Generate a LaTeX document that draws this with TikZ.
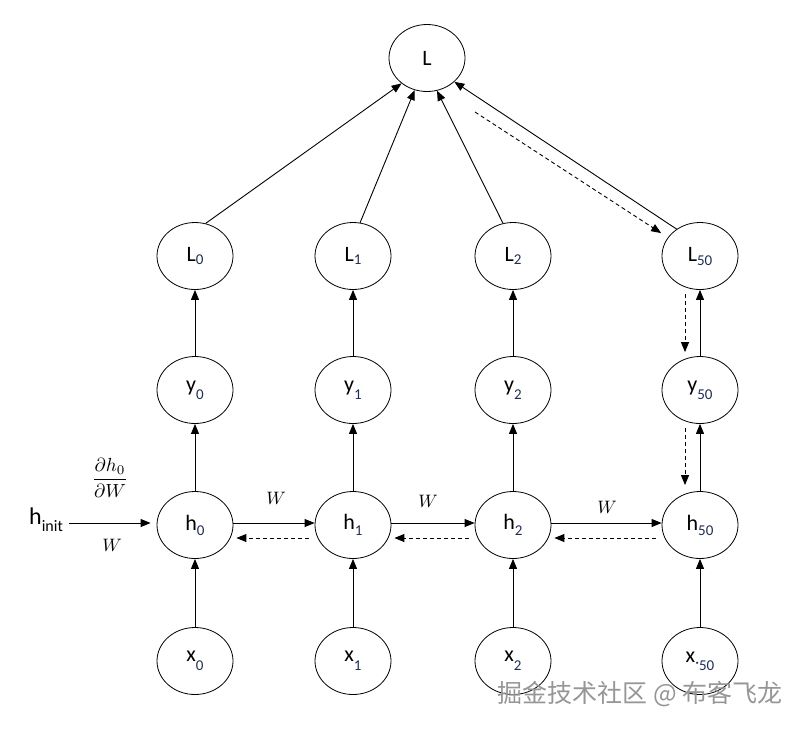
\documentclass[tikz,border=0pt]{standalone}
\usepackage{graphicx}
\usepackage{fontspec}
\setmainfont{Carlito}
\newfontfamily\cjk{Noto Sans CJK SC}
\usetikzlibrary{arrows.meta,shapes.geometric}
\definecolor{subc}{RGB}{31,45,80}
\definecolor{wmark}{RGB}{150,150,150}
\newcommand\lbl[3]{#1\raisebox{#3}{\fontsize{15}{15}\selectfont\color{subc}#2}}
\newcommand\bigW{\scalebox{1.8}{$W$}}
\tikzset{
  nd/.style={ellipse, draw, line width=0.8pt, minimum width=76pt, minimum height=67pt, inner sep=0pt, font=\fontsize{22}{22}\selectfont},
  arr/.style={-{Triangle[length=10pt,width=8pt]}, line width=0.9pt},
  darr/.style={arr, dash pattern=on 4pt off 3pt},
  wlab/.style={inner sep=0pt},
}
\begin{document}
\begin{tikzpicture}[x=1pt,y=-1pt]
\useasboundingbox (0,0) rectangle (804,732);
% nodes
\node[nd] (L) at (427,58) {L};
\node[nd] (L0) at (195,256) {\lbl{L}{0}{-3pt}};
\node[nd] (L1) at (353,256) {\lbl{L}{1}{-3pt}};
\node[nd] (L2) at (513,256) {\lbl{L}{2}{-3pt}};
\node[nd] (L50) at (700,256) {\lbl{L}{50}{-4pt}};
\node[nd] (y0) at (195,390) {\lbl{y}{0}{-8pt}};
\node[nd] (y1) at (353,390) {\lbl{y}{1}{-8pt}};
\node[nd] (y2) at (513,390) {\lbl{y}{2}{-8pt}};
\node[nd] (y50) at (700,390) {\lbl{y}{50}{-8pt}};
\node[nd] (h0) at (195,525) {\lbl{h}{0}{-5pt}};
\node[nd] (h1) at (353,525) {\lbl{h}{1}{-6pt}};
\node[nd] (h2) at (513,525) {\lbl{h}{2}{-6pt}};
\node[nd] (h50) at (700,525) {\lbl{h}{50}{-5pt}};
\node[nd] (x0) at (195,661) {\lbl{x}{0}{-9pt}};
\node[nd] (x1) at (353,661) {\lbl{x}{1}{-9pt}};
\node[nd] (x2) at (513,661) {\lbl{x}{2}{-9pt}};
\node[nd] (x50) at (700,661) {x\raisebox{-8pt}{\fontsize{15}{15}\selectfont\color{subc}\raisebox{3pt}{·}50}};
\node[inner sep=0pt, anchor=base west, font=\fontsize{24}{24}\selectfont] (hinit) at (29,524) {h\raisebox{-7pt}{\fontsize{16}{16}\selectfont init}};
\node[inner sep=0pt] (frac) at (110,478) {\scalebox{1.9}{$\displaystyle\frac{\partial h_0}{\partial W}$}};
\node[wlab] (w0) at (112,545) {\bigW};
\node[wlab] (w1) at (276,498) {\bigW};
\node[wlab] (w2) at (428,501) {\bigW};
\node[wlab] (w3) at (607,507) {\bigW};
% vertical arrows
\foreach \c in {0,1,2,50}{
  \draw[arr] (x\c) -- (h\c);
  \draw[arr] (h\c) -- (y\c);
  \draw[arr] (y\c) -- (L\c);
}
\draw[darr] ([shift={(-15pt,-4pt)}]L50.south) -- ([shift={(-15pt,4pt)}]y50.north);
\draw[darr] ([shift={(-15pt,-4pt)}]y50.south) -- ([shift={(-15pt,6pt)}]h50.north);
% to L
\draw[arr] (L0.72) -- (L.225);
\draw[arr] (L1.78) -- (L.249);
\draw[arr] (L2.107) -- (L.287);
\draw[arr] (L50.131) -- (L.319);
\coordinate (dstart) at (475,112);
\draw[darr, shorten >=8pt] (dstart) -- (L50.150);
% horizontal
\draw[arr] ([xshift=6pt]hinit.east |- h0.west) ++(0,-2) -- ([xshift=-6pt,yshift=2pt]h0.west);
\draw[arr] ([yshift=2pt]h0.east) -- ([yshift=2pt]h1.west);
\draw[arr] ([yshift=2pt]h1.east) -- ([yshift=2pt]h2.west);
\draw[arr] ([yshift=2pt]h2.east) -- ([yshift=2pt]h50.west);
\draw[darr] ([shift={(-6pt,-13pt)}]h1.west) -- ([shift={(3pt,-13pt)}]h0.east);
\draw[darr] ([shift={(-6pt,-13pt)}]h2.west) -- ([shift={(3pt,-13pt)}]h1.east);
\draw[darr] ([shift={(-6pt,-13pt)}]h50.west) -- ([shift={(3pt,-13pt)}]h2.east);
% watermark
\node[inner sep=0pt, text=wmark, font=\fontsize{25}{25}\selectfont\cjk] (wm) at (640,694) {掘金技术社区 @ 布客飞龙};
\end{tikzpicture}
\end{document}
